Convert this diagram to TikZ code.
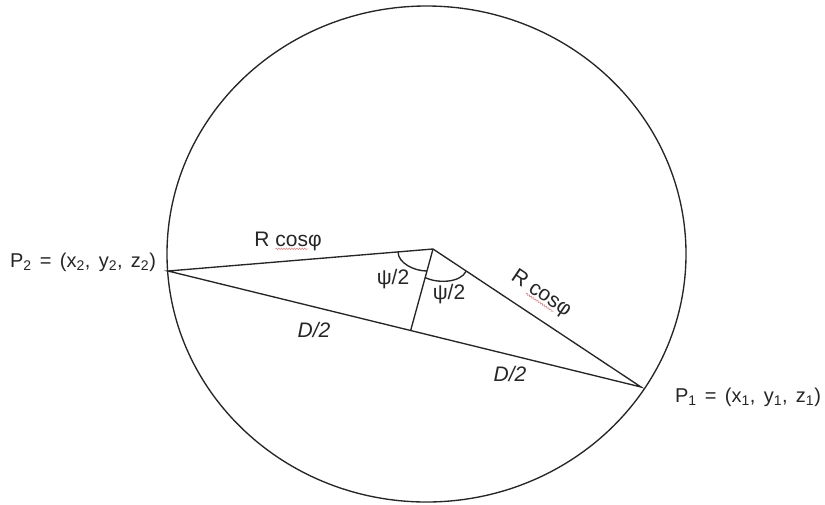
\documentclass[tikz,border=0pt]{standalone}
\usepackage{fontspec}
\setmainfont{Liberation Sans}
\newfontfamily\ptfont[WordSpace=1.5]{Liberation Sans}
\usetikzlibrary{calc,decorations.pathmorphing}
\definecolor{ink}{HTML}{262626}
\definecolor{spell}{HTML}{D88A8A}
\newcommand\spellmark[1]{\setbox0\hbox{#1}\rlap{\copy0}\tikz[baseline=0pt]{\useasboundingbox (0pt,0pt) rectangle (\wd0,0pt);\draw[spell,line width=0.6pt,decorate,decoration={snake,amplitude=0.8pt,segment length=2.6pt}] (0pt,-2.8pt) -- (\wd0,-2.8pt);}}
\tikzset{
  edge/.style={draw=ink, line width=1.35pt},
  lbl/.style={font=\fontsize{21}{24}\selectfont, text=ink, inner sep=0pt, outer sep=0pt},
  ptlbl/.style={lbl, font=\ptfont\fontsize{20}{24}\selectfont},
  ital/.style={lbl, font=\fontsize{21}{24}\selectfont\itshape}
}
\begin{document}
\begin{tikzpicture}[x=1pt,y=-1pt]
\useasboundingbox (0,0) rectangle (825,504);
\coordinate (O) at (426.5,254);
\draw[edge] (O) ellipse [x radius=259.5, y radius=248];
\coordinate (P2) at (168,271);
\coordinate (P1) at (641,387);
\coordinate (C) at (433,249);
\coordinate (F) at ($(P2)!0.513!(P1)$);
\draw[edge] (P2) -- (C) -- (P1) -- cycle;
\draw[edge] (C) -- (F);
% angle arcs
\coordinate (a1s) at ($(C)!0.132!(P2)$);
\coordinate (a1e) at ($(C)!0.27!(F)$);
\coordinate (a2s) at ($(C)!0.35!(F)$);
\coordinate (a2e) at ($(C)!0.16!(P1)$);
\draw[edge] (a1s) .. controls ($(a1s)+(0,11)$) and ($(a1e)+(-13,0)$) .. (a1e);
\draw[edge] (a2s) .. controls ($(a2s)+(12,6)$) and ($(a2e)+(-6,12)$) .. (a2e);
% labels
\node[ptlbl, anchor=base west] (p2lbl) at (10,267) {P\textsubscript{2} = (x\textsubscript{2}, y\textsubscript{2}, z\textsubscript{2})};
\node[ptlbl, anchor=base west] (p1lbl) at (675,402) {P\textsubscript{1} = (x\textsubscript{1}, y\textsubscript{1}, z\textsubscript{1})};
\node[lbl] (rc1) at (288,241) {R \spellmark{cos}φ};
\node[lbl, rotate=-33.7] (rc2) at (541,294) {R \spellmark{cos}φ};
\node[lbl] (psiL) at (393,279) {ψ/2};
\node[lbl] (psiR) at (449,294) {ψ/2};
\node[ital] (dL) at (314,330) {D/2};
\node[ital] (dR) at (510,374) {D/2};
\end{tikzpicture}
\end{document}
